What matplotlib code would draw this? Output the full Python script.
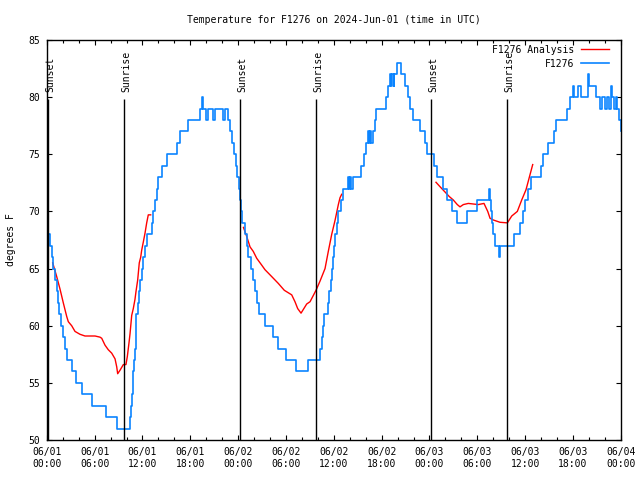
import numpy as np
import matplotlib
matplotlib.use("Agg")
import matplotlib.pyplot as plt

# ---- data (hours since 2024-06-01 00:00 UTC) ----
obs_hours = [0.00, 0.40, 0.61, 0.82, 1.03, 1.24, 1.44, 1.57, 1.74, 1.99, 2.28, 2.50, 3.20, 3.66, 4.45, 5.63, 7.39, 8.77,
             10.44, 10.56, 10.65, 10.75, 10.85, 10.94, 11.06, 11.13, 11.19, 11.25, 11.40, 11.57, 11.69, 11.90, 12.10,
             12.36, 12.61, 13.16, 13.36, 13.51, 13.79, 13.99, 14.51, 15.14, 16.27, 16.65, 17.75, 19.22, 19.41,
             19.56, 19.91, 20.16, 20.82, 21.04, 22.04, 22.29, 22.67,
             22.92, 23.17, 23.48, 23.67, 23.86, 24.05, 24.23, 24.36, 24.52, 24.80, 25.05, 25.28, 25.62, 25.87, 26.12,
             26.33, 26.68, 27.31, 28.37, 29.00, 30.00, 31.26,
             32.77, 34.21, 34.46, 34.65, 34.81, 35.21, 35.40, 35.59, 35.77, 35.94, 36.06, 36.15, 36.36, 36.57, 36.90,
             37.19, 37.72,
             37.91, 38.00, 38.22, 38.35,
             39.35, 39.73, 39.98, 40.23, 40.42, 40.54, 40.69, 40.86, 41.11, 41.33, 42.49, 42.80, 43.05, 43.18, 43.30,
             43.49, 43.61, 43.87,
             44.43, 44.93, 45.31, 45.62, 45.94, 46.82, 47.38, 47.63, 48.63, 48.91, 49.70, 50.14, 50.77, 51.46,
             52.71, 53.90, 55.41, 55.57, 55.72, 55.85, 56.01, 56.16, 56.75, 56.89,
             58.61, 59.30, 59.67, 59.98, 60.36, 60.74, 61.99, 62.24, 62.93, 63.68, 63.93, 65.25, 65.63, 65.95,
             66.13, 66.57, 67.01, 67.89, 68.01, 68.89, 69.45, 69.64, 70.08, 70.27, 70.48, 70.71, 70.90, 71.15,
             71.36, 71.53, 71.78, 71.97]
obs_temps = [68, 67, 66, 65, 64, 63, 62, 61, 60, 59, 58, 57, 56, 55, 54, 53, 52, 51,
             52, 53, 54, 55, 56, 57, 58, 59, 60, 61, 62, 63, 64, 65, 66,
             67, 68, 69, 70, 71, 72, 73, 74, 75, 76, 77, 78, 79, 80,
             79, 78, 79, 78, 79, 78, 79, 78,
             77, 76, 75, 74, 73, 72, 71, 70, 69, 68, 67, 66, 65, 64, 63,
             62, 61, 60, 59, 58, 57, 56,
             57, 58, 59, 60, 61, 62, 63, 64, 65, 66, 67, 68, 69, 70, 71,
             72, 73,
             72, 73, 72, 73,
             74, 75, 76, 77, 76, 77, 76, 77, 78, 79, 80, 81, 82, 81, 82,
             81, 82, 83,
             82, 81, 80, 79, 78, 77, 76, 75, 74, 73, 72, 71, 70, 69,
             70, 71, 72, 71, 70, 69, 68, 67, 66, 67,
             68, 69, 70, 71, 72, 73, 74, 75, 76, 77, 78, 79, 80, 81,
             80, 81, 80, 82, 81, 80, 79, 80, 79, 80, 79, 81, 80, 79,
             80, 79, 78, 77]

ana1_hours = [0.74, 1.24, 1.66, 2.07, 2.50, 2.70, 3.12, 3.54, 4.16, 4.79, 6.05, 6.67, 6.89, 7.30, 7.71, 8.14,
              8.56, 8.77, 8.89, 9.18, 9.60, 9.93, 10.10, 10.31, 10.44, 10.65, 10.85, 11.06, 11.19, 11.40, 11.60,
              11.78, 11.90, 12.10, 12.32, 12.53, 12.73, 13.03]
ana1_temps = [65.5, 64.3, 63.2, 62.0, 60.8, 60.35, 60.0, 59.5, 59.25, 59.1, 59.1, 59.0, 58.9, 58.3, 57.9, 57.6,
              57.1, 56.4, 55.8, 56.1, 56.6, 56.6, 57.3, 58.5, 59.3, 60.9, 61.5, 62.3, 63.0, 64.0, 65.5,
              66.0, 66.6, 67.3, 68.1, 69.0, 69.7, 69.7]
ana2_hours = [24.67, 25.08, 25.49, 25.90, 26.33, 26.96, 27.37, 28.21, 29.04, 29.79, 30.72, 31.13, 31.47, 31.89,
              32.60, 33.02, 33.77, 34.27, 34.90, 35.31, 35.74, 36.15, 36.57, 36.78, 36.99]
ana2_temps = [68.6, 67.8, 66.9, 66.5, 65.9, 65.3, 64.9, 64.3, 63.7, 63.1, 62.7, 62.1, 61.5, 61.1,
              61.9, 62.1, 63.1, 63.9, 65.0, 66.5, 68.0, 69.2, 70.6, 71.2, 71.5]
ana3_hours = [48.82, 49.41, 49.95, 50.49, 50.99, 51.49, 51.83, 52.25, 52.87, 54.12, 54.84, 55.31, 55.60, 56.01,
              56.85, 57.77, 58.32, 59.02, 59.57, 60.11, 60.53, 60.95]
ana3_temps = [72.55, 72.1, 71.7, 71.3, 71.0, 70.6, 70.4, 70.6, 70.7, 70.6, 70.7, 70.0, 69.4, 69.25,
              69.05, 69.0, 69.6, 70.0, 71.0, 71.9, 73.0, 74.1]

sunset_hours = [0.19, 24.27, 48.23]
sunrise_hours = [9.72, 33.81, 57.77]

xtick_hours = list(range(0, 73, 6))
xtick_labels = ["06/01\n00:00", "06/01\n06:00", "06/01\n12:00", "06/01\n18:00",
                "06/02\n00:00", "06/02\n06:00", "06/02\n12:00", "06/02\n18:00",
                "06/03\n00:00", "06/03\n06:00", "06/03\n12:00", "06/03\n18:00",
                "06/04\n00:00"]
ytick_vals = [50, 55, 60, 65, 70, 75, 80, 85]

# ---- figure ----
plt.rcParams['font.family'] = ['DejaVu Sans Mono']
FS = 7
fig = plt.figure(figsize=(6.4, 4.8), dpi=100)
ax = fig.add_axes([46.8 / 640, 40 / 480, 574 / 640, 400 / 480])
ax.set_xlim(0, 72)
ax.set_ylim(50, 85)

red = '#ff0000'
blue = '#0a84ff'

# analysis segments
l_ana, = ax.plot(ana1_hours, ana1_temps, color=red, lw=1.0, label='F1276 Analysis')
ax.plot(ana2_hours, ana2_temps, color=red, lw=1.0)
ax.plot(ana3_hours, ana3_temps, color=red, lw=1.0)

# observations (stepped)
oh = np.append(np.array(obs_hours), 72.0)
ot = np.append(np.array(obs_temps), obs_temps[-1])
l_obs, = ax.plot(oh, ot, color=blue, lw=1.2, drawstyle='steps-post', label='F1276')

# sun lines
line_top = 79.85
for h in sunset_hours:
    ax.vlines(h, 50, line_top, color='black', lw=1.0)
    ax.text(h + 0.2, 80.45, 'Sunset', rotation=90, ha='center', va='bottom', fontsize=FS)
for h in sunrise_hours:
    ax.vlines(h, 50, line_top, color='black', lw=1.0)
    ax.text(h + 0.2, 80.45, 'Sunrise', rotation=90, ha='center', va='bottom', fontsize=FS)

# ticks
ax.set_xticks(xtick_hours)
ax.set_xticklabels(xtick_labels)
ax.set_xticks(list(range(0, 73, 2)), minor=True)
ax.set_yticks(ytick_vals)
ax.tick_params(which='major', direction='in', top=True, right=True, length=3.5, width=0.8,
               labelsize=FS, pad=5)
ax.tick_params(which='minor', direction='in', top=True, right=True, length=2.0, width=0.8)
for s in ax.spines.values():
    s.set_linewidth(1.0)

leg = ax.legend(handles=[l_ana, l_obs], loc='upper right', bbox_to_anchor=(0.9812, 0.9906),
                frameon=False, markerfirst=False,
                fontsize=FS, handlelength=2.9, handletextpad=0.7, labelspacing=0.4,
                borderaxespad=0.0, borderpad=0.1)

fig.text(334 / 640, 1 - 20 / 480, 'Temperature for F1276 on 2024-Jun-01 (time in UTC)',
         ha='center', va='center', fontsize=FS)
fig.text(11 / 640, 0.5, 'degrees F', rotation=90, ha='center', va='center', fontsize=FS)

fig.savefig('out.png', dpi=100)
